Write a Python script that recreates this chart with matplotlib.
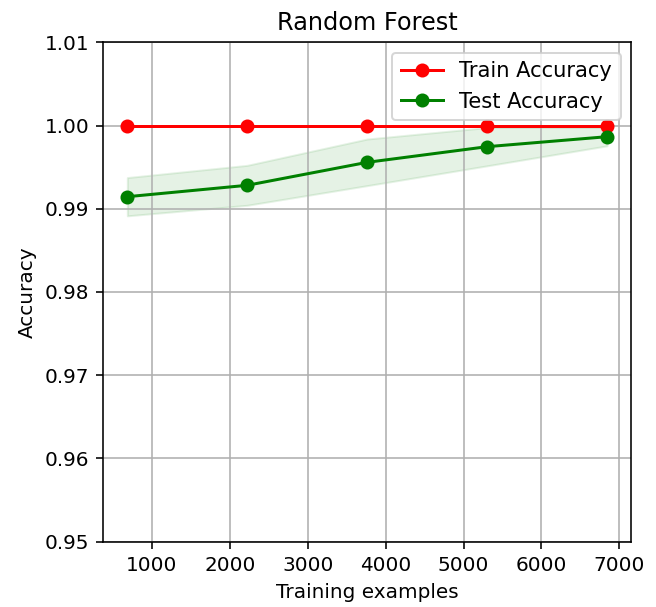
import numpy as np
import matplotlib
matplotlib.use("Agg")
import matplotlib.pyplot as plt

train_sizes = [684, 2223, 3763, 5302, 6842]
train_mean = [1.0, 1.0, 1.0, 1.0, 1.0]
train_std = [0.0, 0.0, 0.0, 0.0, 0.0]
test_mean = [0.99145, 0.99282, 0.99558, 0.99746, 0.99866]
test_std = [0.0023, 0.0024, 0.0028, 0.0023, 0.0011]

title = "Random Forest"
xlabel = "Training examples"
ylabel = "Accuracy"

DPI = 144
fig = plt.figure(figsize=(656 / DPI, 607 / DPI), dpi=DPI)
ax = fig.add_axes([0.1575, 0.1076, 0.962 - 0.1575, 0.9303 - 0.1076])

x = np.array(train_sizes)
tm = np.array(train_mean); ts = np.array(train_std)
vm = np.array(test_mean); vs = np.array(test_std)

ax.fill_between(x, tm - ts, tm + ts, alpha=0.1, color='r')
ax.fill_between(x, vm - vs, vm + vs, alpha=0.1, color='g')
ax.plot(x, tm, 'o-', color='r', label='Train Accuracy')
ax.plot(x, vm, 'o-', color='g', label='Test Accuracy')

ax.set_ylim(0.95, 1.01)
ax.set_yticks([0.95, 0.96, 0.97, 0.98, 0.99, 1.00, 1.01])
ax.set_xticks([1000, 2000, 3000, 4000, 5000, 6000, 7000])
ax.grid(True)
ax.set_title(title)
ax.set_xlabel(xlabel)
ax.set_ylabel(ylabel)
ax.legend(loc='upper right', fontsize=10.5)

fig.savefig("out.png", dpi=DPI)
